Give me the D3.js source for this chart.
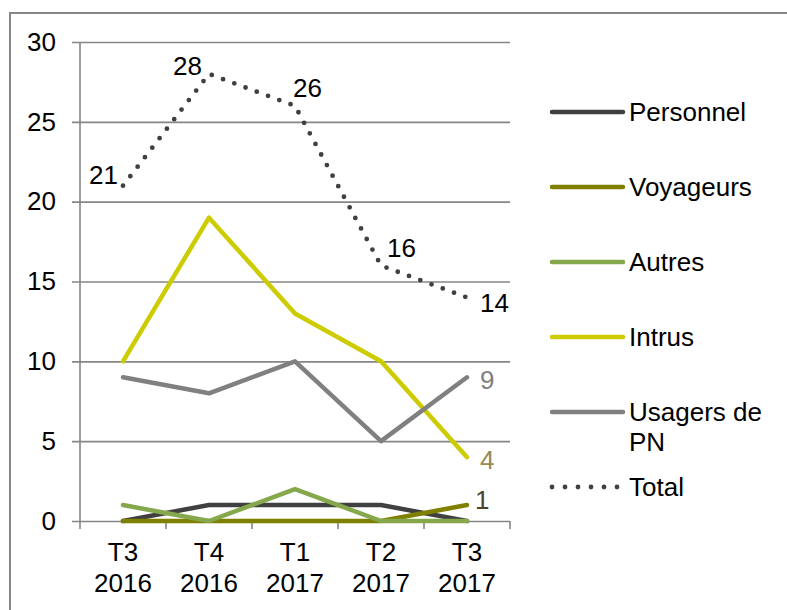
<!DOCTYPE html>
<html>
<head>
<meta charset="utf-8">
<script src="https://cdn.jsdelivr.net/npm/d3@7"></script>
<style>
  body { margin: 0; background: #fff; }
  svg { display: block; font-family: "Liberation Sans", Arial, sans-serif; }
</style>
</head>
<body>
<svg id="chart" width="787" height="610"></svg>
<script>
// data
const quarters = [["T3", "2016"], ["T4", "2016"], ["T1", "2017"], ["T2", "2017"], ["T3", "2017"]];
const yTicks = [0, 5, 10, 15, 20, 25, 30];

const personnel = [0, 1, 1, 1, 0];
const voyageurs = [0, 0, 0, 0, 1];
const autres = [1, 0, 2, 0, 0];
const intrus = [10, 19, 13, 10, 4];
const usagers = [9, 8, 10, 5, 9];
const total = [21, 28, 26, 16, 14];

const series = [
    {name: ["Personnel"], values: personnel, color: "#404040"},
    {name: ["Voyageurs"], values: voyageurs, color: "#7f7f00"},
    {name: ["Autres"], values: autres, color: "#86a84c"},
    {name: ["Intrus"], values: intrus, color: "#cccc00"},
    {name: ["Usagers de", "PN"], values: usagers, color: "#808080"},
    {name: ["Total"], values: total, color: "#404040", dotted: true}
];

const svg = d3.select("#chart");
const gridColor = "#868686";
const fontSize = 26;

const plotLeft = 80, plotRight = 510, plotTop = 42, plotBottom = 521;

const x = d3.scaleBand()
    .domain(quarters.map(function(d) { return d.join(" "); }))
    .range([plotLeft, plotRight])
    .paddingInner(0).paddingOuter(0);

const y = d3.scaleLinear()
    .domain([0, 30])
    .range([plotBottom, plotTop]);

function cx(i) { return x(quarters[i].join(" ")) + x.bandwidth() / 2; }

// outer frame (cut off at right and bottom)
svg.append("path")
    .attr("d", "M10,610V13H787")
    .attr("fill", "none")
    .attr("stroke", gridColor)
    .attr("stroke-width", 2);

// y axis with gridlines
const yAxis = svg.append("g")
    .attr("transform", `translate(${plotLeft - 8},0)`)
    .call(d3.axisLeft(y).tickValues(yTicks).tickSize(-(plotRight - plotLeft + 8)).tickPadding(16));
yAxis.select(".domain").remove();
yAxis.selectAll(".tick line").attr("stroke", gridColor).attr("stroke-width", 1.6);
yAxis.selectAll(".tick text")
    .attr("fill", "#000")
    .style("font-size", fontSize + "px")
    .style("font-family", "Liberation Sans, Arial, sans-serif");

svg.append("line")
    .attr("x1", plotLeft).attr("x2", plotLeft)
    .attr("y1", plotTop).attr("y2", plotBottom)
    .attr("stroke", gridColor).attr("stroke-width", 1.6);

// x axis ticks at band edges
const edges = x.domain().map(function(d) { return x(d); }).concat([plotRight]);
svg.append("g").selectAll("line")
    .data(edges)
    .enter()
    .append("line")
        .attr("x1", function(d) { return d; })
        .attr("x2", function(d) { return d; })
        .attr("y1", plotBottom)
        .attr("y2", plotBottom + 8)
        .attr("stroke", gridColor)
        .attr("stroke-width", 1.6);

svg.append("g").selectAll("text")
    .data(quarters)
    .enter()
    .append("text")
        .attr("text-anchor", "middle")
        .style("font-size", fontSize + "px")
        .each(function(d, i) {
            const t = d3.select(this);
            d.forEach(function(part, j) {
                t.append("tspan")
                    .attr("x", cx(i))
                    .attr("y", 552 + j * 31)
                    .attr("dominant-baseline", "central")
                    .text(part);
            });
        });

// lines
const line = d3.line()
    .x(function(d, i) { return cx(i); })
    .y(function(d) { return y(d); });

series.forEach(function(s) {
    svg.append("path")
        .datum(s.values)
        .attr("d", line)
        .attr("fill", "none")
        .attr("stroke", s.color)
        .attr("stroke-width", s.dotted ? 4.8 : 4.5)
        .attr("stroke-linecap", "round")
        .attr("stroke-linejoin", "round")
        .attr("stroke-dasharray", s.dotted ? "0 12" : null);
});

// data labels
const labelStyle = [
    {values: total, idx: 0, dx: -5, dy: -11, anchor: "end", color: "#000"},
    {values: total, idx: 1, dx: -7, dy: -8, anchor: "end", color: "#000"},
    {values: total, idx: 2, dx: -2, dy: -18, anchor: "start", color: "#000"},
    {values: total, idx: 3, dx: 6, dy: -18, anchor: "start", color: "#000"},
    {values: total, idx: 4, dx: 13, dy: 6, anchor: "start", color: "#000"},
    {values: usagers, idx: 4, dx: 13, dy: 3, anchor: "start", color: "#808080"},
    {values: intrus, idx: 4, dx: 13, dy: 3, anchor: "start", color: "#948a54"},
    {values: voyageurs, idx: 4, dx: 8, dy: -5, anchor: "start", color: "#4a452a"}
];

svg.append("g").selectAll("text")
    .data(labelStyle)
    .enter()
    .append("text")
        .attr("x", function(d) { return cx(d.idx) + d.dx; })
        .attr("y", function(d) { return y(d.values[d.idx]) + d.dy; })
        .attr("text-anchor", function(d) { return d.anchor; })
        .attr("dominant-baseline", "central")
        .attr("fill", function(d) { return d.color; })
        .style("font-size", fontSize + "px")
        .text(function(d) { return d.values[d.idx]; });

// legend
const legend = svg.append("g").selectAll("g")
    .data(series)
    .enter()
    .append("g")
        .attr("transform", function(d, i) { return `translate(552, ${112 + i * 75})`; });

legend.append("line")
    .attr("x1", 0).attr("x2", 71)
    .attr("y1", 0).attr("y2", 0)
    .attr("stroke", function(d) { return d.color; })
    .attr("stroke-width", function(d) { return d.dotted ? 4.8 : 4.5; })
    .attr("stroke-linecap", "round")
    .attr("stroke-dasharray", function(d) { return d.dotted ? "0 13" : null; });

legend.append("text")
    .style("font-size", fontSize + "px")
    .each(function(d) {
        const t = d3.select(this);
        d.name.forEach(function(part, j) {
            t.append("tspan")
                .attr("x", 77)
                .attr("y", j * 30)
                .attr("dominant-baseline", "central")
                .text(part);
        });
    });
</script>
</body>
</html>
